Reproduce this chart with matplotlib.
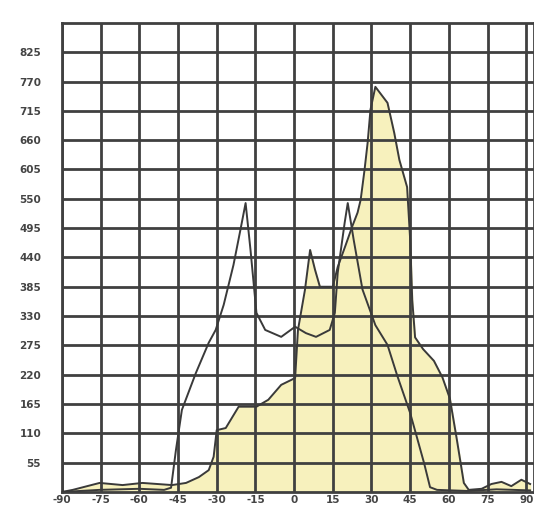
import matplotlib.pyplot as plt
import numpy as np

# outline-only series
x_line = [-90, -75.4, -60.0, -50.4, -47.7, -45.8, -43.5, -38.1, -33.1, -30.4, -27.3,
          -23.5, -20.8, -18.8, -16.9, -14.6, -11.2, -5.0, 0.4, 4.6, 8.5, 13.8, 15.8,
          16.9, 19.6, 20.8, 23.1, 26.5, 31.5, 36.2, 40.0, 45.0, 50.4, 52.7, 55.4,
          66.9, 78.5, 91.5]
y_line = [0, 4, 6, 4, 8, 79, 154, 223, 280, 304, 351,
          426, 492, 542, 454, 336, 304, 291, 310, 298, 291, 304, 336,
          411, 505, 542, 473, 380, 313, 276, 218, 148, 54, 9, 4,
          2, 5, 3]

# filled series
x_fill = [-90, -85.8, -75.4, -66.5, -58.8, -47.3, -41.9, -36.9, -33.1, -31.2, -30.0,
          -26.5, -21.5, -14.6, -10.0, -5.0, -1.2, 0.4, 1.5, 4.2, 6.2, 8.1, 10.0,
          15.0, 16.9, 19.9, 22.6, 24.6, 25.8, 27.3, 28.5, 29.6, 31.5, 36.2, 38.8,
          40.8, 43.8, 45.0, 45.8, 46.9, 50.0, 54.2, 57.5, 60.4, 63.1, 65.8, 67.7,
          72.7, 76.5, 80.4, 84.2, 88.1, 91.5]
y_fill = [0, 4, 17, 13, 17, 13, 17, 28, 41, 66, 116,
          120, 160, 160, 173, 201, 210, 214, 304, 379, 454, 417, 385,
          385, 422, 462, 499, 524, 548, 604, 655, 717, 760, 730, 674,
          623, 572, 473, 360, 290, 268, 246, 215, 175, 98, 17, 4,
          6, 15, 19, 11, 23, 15]

x_ticks = np.arange(-90, 91, 15)
y_ticks = np.arange(55, 826, 55)

fig = plt.figure(figsize=(5.34, 5.08), dpi=100)
ax = fig.add_axes([0.116, 0.0315, 0.884, 0.9235])

ax.fill_between(x_fill, y_fill, color="#f7f1bd", zorder=1)
ax.plot(x_fill, y_fill, color="#3a3a3a", lw=1.4, zorder=3)
ax.plot(x_line, y_line, color="#3a3a3a", lw=1.4, zorder=3)

ax.set_xlim(-90, 93)
ax.set_ylim(0, 880)
ax.set_xticks(x_ticks)
ax.set_yticks(y_ticks)
ax.set_xticklabels([str(v) for v in x_ticks], fontsize=7.5, fontweight="bold", color="#444")
ax.set_yticklabels([str(v) for v in y_ticks], fontsize=7.5, fontweight="bold", color="#444")
ax.tick_params(length=0)
ax.tick_params(axis="y", pad=15)
ax.tick_params(axis="x", pad=2)
ax.grid(True, color="#404040", lw=2.0, zorder=2)
ax.set_axisbelow(False)
for s in ax.spines.values():
    s.set_color("#404040")
    s.set_linewidth(2.0)

fig.savefig("out.png", dpi=100)
